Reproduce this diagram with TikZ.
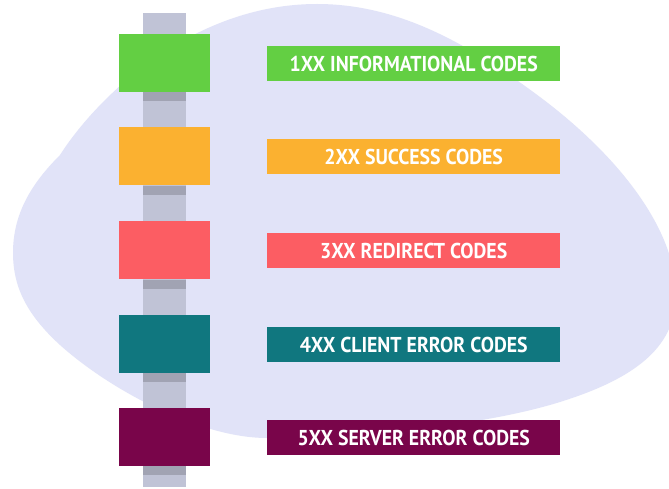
\documentclass[tikz,border=0pt]{standalone}
\usepackage{fontspec}
\setmainfont{PT Sans}
\newfontfamily\labfont[FakeStretch=0.92]{PT Sans Bold}
\begin{document}
\begin{tikzpicture}[x=1pt,y=-1pt,
  sq/.style={draw=none,fill=#1,minimum width=91pt,minimum height=58pt,inner sep=0pt,outer sep=0pt,anchor=north west},
  lab/.style={draw=none,fill=#1,minimum width=293pt,minimum height=35pt,inner sep=0pt,anchor=north west,
    text=white,font=\labfont\fontsize{21.5}{22}\selectfont},
  band/.style={fill=barDark,draw=none}]
\definecolor{blobc}{HTML}{E1E3F8}
\definecolor{barc}{HTML}{C0C3D6}
\definecolor{barDark}{HTML}{A1A3B3}
\definecolor{cgreen}{HTML}{63CF43}
\definecolor{corange}{HTML}{FBB130}
\definecolor{cred}{HTML}{FC5D63}
\definecolor{cteal}{HTML}{10777F}
\definecolor{cpurple}{HTML}{79054A}
\useasboundingbox (0,0) rectangle (669,489);
\fill[white] (0,0) rectangle (669,489);
\fill[blobc] (13,253) .. controls (13,215) and (30,185) .. (60,155)
  .. controls (95,100) and (190,4) .. (317,4)
  .. controls (400,4) and (470,45) .. (540,97)
  .. controls (620,157) and (676,230) .. (676,295)
  .. controls (676,350) and (630,380) .. (560,402)
  .. controls (470,430) and (330,438) .. (267,438)
  .. controls (200,438) and (110,390) .. (60,345)
  .. controls (25,313) and (13,285) .. (13,253) -- cycle;
\fill[barc] (143,13) rectangle (186,487);
\foreach \yy in {92,186,280,373,466}{
  \fill[band] (143,\yy) rectangle (186,\yy+9);
}
\node[sq=cgreen] (s1) at (119,34) {};
\node[sq=corange] (s2) at (119,127) {};
\node[sq=cred] (s3) at (119,221) {};
\node[sq=cteal] (s4) at (119,315) {};
\node[sq=cpurple] (s5) at (119,408) {};
\node[lab=cgreen] (l1) at (267,46) {1XX INFORMATIONAL CODES};
\node[lab=corange] (l2) at (267,139) {2XX SUCCESS CODES};
\node[lab=cred] (l3) at (267,233) {3XX REDIRECT CODES};
\node[lab=cteal] (l4) at (267,327) {4XX CLIENT ERROR CODES};
\node[lab=cpurple] (l5) at (267,420) {5XX SERVER ERROR CODES};
\end{tikzpicture}
\end{document}
